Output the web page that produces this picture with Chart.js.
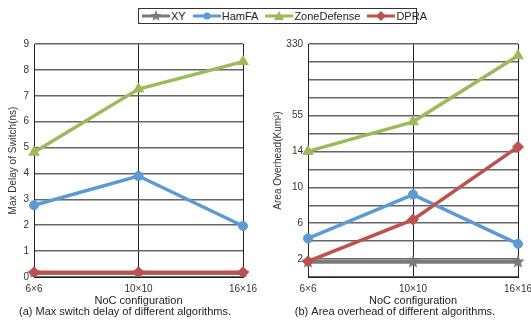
<!DOCTYPE html>
<html>
<head>
<meta charset="utf-8">
<script src="https://cdn.jsdelivr.net/npm/chart.js@4"></script>
<style>
  body { margin: 0; background: #fff; font-family: "Liberation Sans", Arial, sans-serif; }
  #wrap { position: relative; width: 531px; height: 324px; overflow: hidden; }
  #left { position: absolute; left: 0; top: 0; }
  #right { position: absolute; left: 265px; top: 0; }
  #legend { position: absolute; left: 138px; top: 8px; width: 274px; height: 14px; border: 1px solid #333;
            display: flex; align-items: center; gap: 7px; padding-left: 3px; box-sizing: content-box;
            font-size: 11px; color: #222; background: #fff; z-index: 2; }
  #legend span { display: inline-flex; align-items: center; gap: 1px; }
</style>
</head>
<body>
<div id="wrap">
  <div id="legend"></div>
  <canvas id="left" width="265" height="324"></canvas>
  <canvas id="right" width="290" height="324"></canvas>
</div>
<script>
// data
const categories = ['6×6', '10×10', '16×16'];
const seriesNames = ['XY', 'HamFA', 'ZoneDefense', 'DPRA'];

const delayXY = [0.15, 0.15, 0.15];
const delayHamFA = [2.77, 3.9, 1.97];
const delayZone = [4.82, 7.26, 8.32];
const delayDPRA = [0.18, 0.18, 0.18];

const areaXY = [1.7, 1.7, 1.7];
const areaHamFA = [4.3, 9.2, 3.7];
const areaZone = [14.2, 48, 285];
const areaDPRA = [1.75, 6.4, 19.3];

const delayTicks = [0, 1, 2, 3, 4, 5, 6, 7, 8, 9];
const areaTicks = [2, 6, 10, 14, 55, 330];

// right axis is broken: 0..14 linear, then 14..55 and 55..330 squeezed
const areaKnots = [0, 14, 55, 330];
const areaKnotUnits = [0, 7, 9, 13];

const colors = ['#7a7a7a', '#5b9bd5', '#9bbb59', '#c0504d'];

const toUnit = v => {
  for (let i = 1; i < areaKnots.length; i++) {
    if (v <= areaKnots[i]) {
      const f = (v - areaKnots[i - 1]) / (areaKnots[i] - areaKnots[i - 1]);
      return areaKnotUnits[i - 1] + f * (areaKnotUnits[i] - areaKnotUnits[i - 1]);
    }
  }
  return areaKnotUnits[areaKnotUnits.length - 1];
};

// filled star marker
const makeStar = (r, color) => {
  const c = document.createElement('canvas');
  c.width = c.height = r * 2 + 2;
  const ctx = c.getContext('2d');
  ctx.fillStyle = color;
  ctx.beginPath();
  for (let i = 0; i < 10; i++) {
    const rad = i % 2 ? r * 0.45 : r;
    const a = -Math.PI / 2 + i * Math.PI / 5;
    ctx.lineTo(c.width / 2 + rad * Math.cos(a), c.height / 2 + rad * Math.sin(a));
  }
  ctx.closePath();
  ctx.fill();
  return c;
};

const star = makeStar(7, colors[0]);
const pointStyles = [star, 'circle', 'triangle', 'rectRot'];
const pointRadius = [7, 4.5, 6, 5.5];

const makeDatasets = (lists, map) => lists.map((vals, i) => ({
  label: seriesNames[i],
  data: vals.map(map),
  borderColor: colors[i],
  backgroundColor: colors[i],
  borderWidth: i === 0 ? 4 : 3.5,
  pointStyle: pointStyles[i],
  pointRadius: pointRadius[i],
  pointBorderWidth: 1,
  order: i === 3 ? 0 : 1,
  tension: 0
}));

const tickFont = { family: 'Liberation Sans', size: 10 };
const titleFont = { family: 'Liberation Sans', size: 11, weight: 'normal', lineHeight: 1 };

const baseOptions = (caption, yTitle, yWidth, padRight, yScale) => ({
  responsive: false,
  animation: false,
  devicePixelRatio: 1,
  layout: { padding: { top: 44, left: 7, right: padRight, bottom: 0 } },
  plugins: {
    legend: { display: false },
    tooltip: { enabled: false },
    title: {
      display: true, position: 'bottom', text: caption,
      color: '#222', font: titleFont, padding: { top: 0, bottom: 7 }
    }
  },
  scales: {
    x: {
      type: 'category', offset: false,
      grid: { color: '#222', lineWidth: 1, drawTicks: false },
      border: { color: '#222', width: 1 },
      ticks: { color: '#333', font: tickFont, padding: 6, maxRotation: 0, autoSkip: false },
      title: { display: true, text: 'NoC configuration', color: '#222', font: titleFont, padding: { top: 1, bottom: 0 } },
      afterFit: scale => { scale.height = 29; }
    },
    y: Object.assign({
      grid: { color: '#666', lineWidth: 1.5, drawTicks: false },
      border: { color: '#222', width: 1 },
      title: { display: true, text: yTitle, color: '#333', font: tickFont, padding: { top: 0, bottom: 0 } },
      afterFit: scale => { scale.width = yWidth; }
    }, yScale)
  }
});

new Chart(document.getElementById('left'), {
  type: 'line',
  data: {
    labels: categories,
    datasets: makeDatasets([delayXY, delayHamFA, delayZone, delayDPRA], v => v)
  },
  options: baseOptions('(a) Max switch delay of different algorithms.', 'Max Delay of Switch(ns)', 27, 22, {
    min: delayTicks[0], max: delayTicks[delayTicks.length - 1],
    ticks: { stepSize: 1, color: '#333', font: tickFont, padding: 5 }
  })
});

const areaLabelAt = {};
areaTicks.forEach(t => { areaLabelAt[Math.round(toUnit(t))] = String(t); });

new Chart(document.getElementById('right'), {
  type: 'line',
  data: {
    labels: categories,
    datasets: makeDatasets([areaXY, areaHamFA, areaZone, areaDPRA], toUnit)
  },
  options: baseOptions('(b) Area overhead of different algorithms.', 'Area Overhead(Kum²)', 36, 37, {
    min: 0, max: areaKnotUnits[areaKnotUnits.length - 1],
    ticks: {
      stepSize: 1, color: '#333', font: tickFont, padding: 5,
      callback: v => areaLabelAt[v] || ''
    }
  })
});

// legend spanning both panels
const legend = document.getElementById('legend');
const markerSvg = i => {
  const c = colors[i];
  let m = '';
  if (i === 0) {
    const pts = [];
    for (let k = 0; k < 10; k++) {
      const r = k % 2 ? 2.6 : 5.8;
      const a = -Math.PI / 2 + k * Math.PI / 5;
      pts.push((14 + r * Math.cos(a)).toFixed(1) + ',' + (6 + r * Math.sin(a)).toFixed(1));
    }
    m = `<polygon points="${pts.join(' ')}" fill="${c}"/>`;
  } else if (i === 1) m = `<circle cx="14" cy="6" r="3.5" fill="${c}"/>`;
  else if (i === 2) m = `<polygon points="14,1 19,10 9,10" fill="${c}"/>`;
  else m = `<polygon points="14,1 19,6 14,11 9,6" fill="${c}"/>`;
  return `<svg width="28" height="12"><line x1="0" y1="6" x2="28" y2="6" stroke="${c}" stroke-width="3"/>${m}</svg>`;
};
legend.innerHTML = seriesNames.map((n, i) => `<span>${markerSvg(i)}${n}</span>`).join('');
</script>
</body>
</html>
